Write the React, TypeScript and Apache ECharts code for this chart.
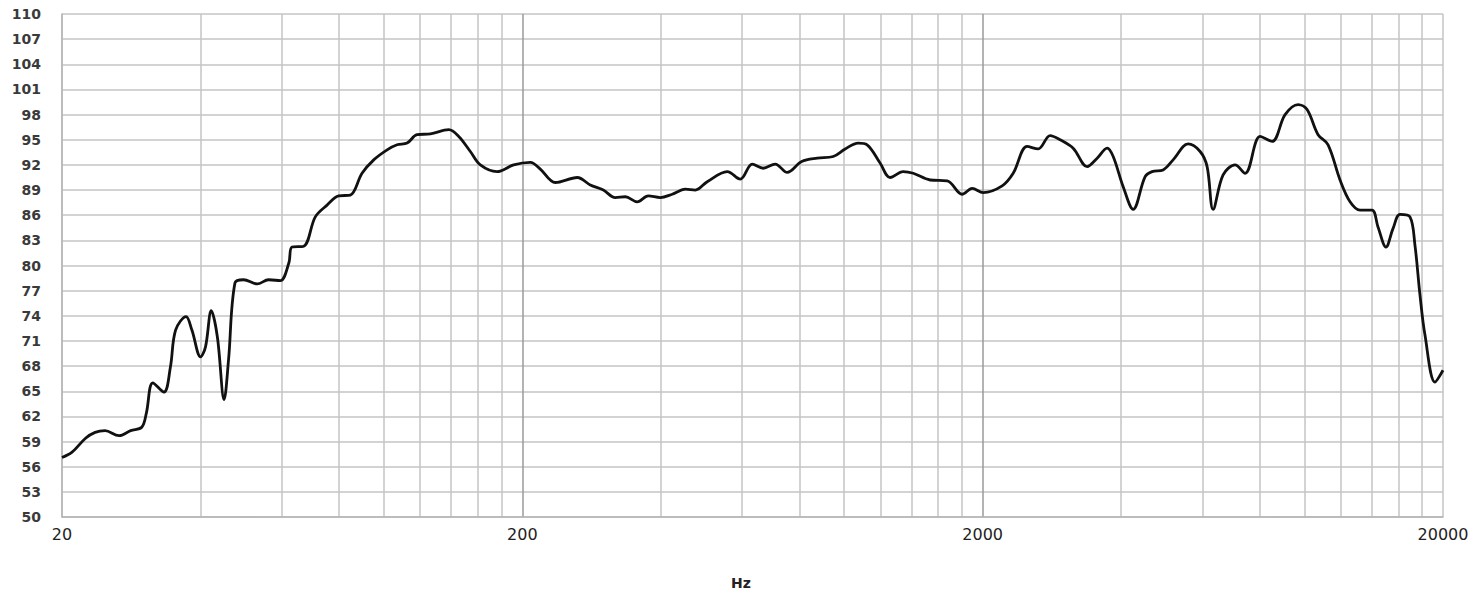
import React, { useEffect, useRef } from "react";
import * as echarts from "echarts";

// Frequency response
const freqHz = [
  20, 21.0, 22.5, 23.6, 24.8, 26.6, 28.2, 29.8, 30.5, 31.5, 33.3, 34.4, 35.3, 37.2, 38.3, 40.0,
  41.0, 42.2, 43.5, 45.0, 46.0, 47.5, 49.6, 53.1, 56.2, 59.6, 62.2, 63.2, 67.0, 71.0, 75.3, 79.8,
  84.6, 89.7, 95.1, 101.7, 106.9, 112.4, 118.1, 126.3, 138.4, 145.5, 154.2, 162.1, 176.2, 191.5,
  208.2, 218.8, 235.9, 263.3, 281.0, 299.9, 318.4, 334.7, 355.4, 375.5, 398.7, 423.3, 451.8, 475.0,
  504.3, 557.4, 594.9, 631.6, 667.3, 708.6, 752.4, 809, 874.4, 947.2, 1005.6, 1073, 1122, 1198,
  1259, 1344, 1413, 1538, 1675, 1805, 1898, 2005, 2205, 2330, 2498, 2640, 2803, 2947, 3145, 3373,
  3546, 3728, 3842, 4039, 4246, 4508, 4668, 4932, 5185, 5589, 5935, 6146, 6333, 6658, 7069, 7432,
  8012, 8506, 9078, 9688, 10134, 10706, 11256, 11950, 12564, 13206, 14022, 14448, 15038, 15574,
  16128, 16954, 17384, 17824, 18276, 19216, 20000,
];
const splDb = [
  57.1, 57.7, 59.4, 60.1, 60.3, 59.7, 60.3, 60.7, 62.4, 66.0, 64.9, 67.9, 72.3, 73.9, 72.3, 69.1,
  70.3, 74.6, 71.5, 64.0, 68.7, 77.9, 78.3, 77.8, 78.3, 78.2, 80.3, 82.2, 82.3, 85.8, 87.2, 88.3,
  88.4, 91.0, 92.6, 93.8, 94.4, 94.6, 95.6, 95.7, 96.2, 95.4, 93.6, 92.0, 91.2, 92.0,
  92.3, 91.5, 89.9, 90.5, 89.6, 89.0, 88.1, 88.2, 87.6, 88.3, 88.1, 88.5, 89.1, 89.0,
  90.0, 91.2, 90.3, 92.1, 91.6, 92.1, 91.1, 92.4, 92.8, 93.0, 93.9, 94.6, 94.4, 92.2,
  90.5, 91.2, 91.0, 90.2, 90.1, 88.5, 89.2, 88.7, 89.5, 91.0, 94.2, 93.9, 95.5, 95.0, 94.0, 91.8,
  92.8, 94.0, 93.0, 89.4, 86.7, 90.6, 91.2, 91.4, 92.6, 94.5, 93.6, 91.8, 86.7, 90.8, 92.0, 91.0,
  95.4, 94.8, 98.0, 99.2, 98.6, 95.6, 94.4, 90.2, 87.6, 86.6, 86.6, 84.6, 82.2, 84.4,
  86.1, 85.8, 82.4, 76.5, 71.7, 66.1, 67.5,
];

// Axis settings
const yMin = 50;
const yMax = 110;
const yStep = 3;
const xLabelFreqs = [20, 200, 2000, 20000];
const xGridFreqs = [
  20, 40, 60, 80, 100, 120, 140, 160, 180,
  200, 400, 600, 800, 1000, 1200, 1400, 1600, 1800,
  2000, 4000, 6000, 8000, 10000, 12000, 14000, 16000, 18000, 20000,
];
const xMajorFreqs = [200, 2000];
const xAxisTitle = "Hz";

const lg = (f: number) => Math.log10(f);

export default function App() {
  const ref = useRef<HTMLDivElement>(null);

  useEffect(() => {
    document.body.style.margin = "0";
    const chart = echarts.init(ref.current!, undefined, { renderer: "svg" });

    const gridColors = xGridFreqs.map((f) => (xMajorFreqs.includes(f) ? "#9a9a9a" : "#c4c4c4"));

    chart.setOption({
      animation: false,
      backgroundColor: "#ffffff",
      grid: { left: 62, right: 30, top: 14, bottom: 73 },
      xAxis: {
        type: "value",
        min: lg(20),
        max: lg(20000),
        axisLine: { show: true, lineStyle: { color: "#b4b4b4", width: 1.5 } },
        axisTick: { show: false, customValues: xGridFreqs.map(lg) },
        splitLine: {
          show: true,
          customValues: xGridFreqs.map(lg),
          lineStyle: { color: gridColors, width: 1.5 },
        },
        axisLabel: {
          customValues: xLabelFreqs.map(lg),
          formatter: (v: number) => String(Math.round(Math.pow(10, v))),
          fontFamily: "DejaVu Sans",
          fontSize: 16,
          color: "#222",
          margin: 9,
          showMinLabel: true,
          showMaxLabel: true,
        },
      },
      yAxis: {
        type: "value",
        min: 0,
        max: yMax - yMin,
        interval: yStep,
        axisLine: { show: true, lineStyle: { color: "#b4b4b4", width: 1.5 } },
        axisTick: { show: false },
        splitLine: { show: true, lineStyle: { color: "#c4c4c4", width: 1.5 } },
        axisLabel: {
          formatter: (v: number) => String(Math.round(v + yMin)),
          fontFamily: "DejaVu Sans",
          fontSize: 14,
          fontWeight: "bold",
          color: "#3a3a3a",
          margin: 21,
        },
      },
      graphic: [
        {
          type: "text",
          left: 731,
          top: 576,
          style: {
            text: xAxisTitle,
            font: "bold 14px 'DejaVu Sans'",
            fill: "#222",
          },
        },
      ],
      series: [
        {
          type: "line",
          data: freqHz.map((f, i) => [lg(f), splDb[i] - yMin]),
          showSymbol: false,
          smooth: 0.35,
          lineStyle: { color: "#111", width: 2.8 },
          z: 5,
        },
      ],
    });

    return () => chart.dispose();
  }, []);

  return <div ref={ref} style={{ width: 1473, height: 590 }} />;
}
